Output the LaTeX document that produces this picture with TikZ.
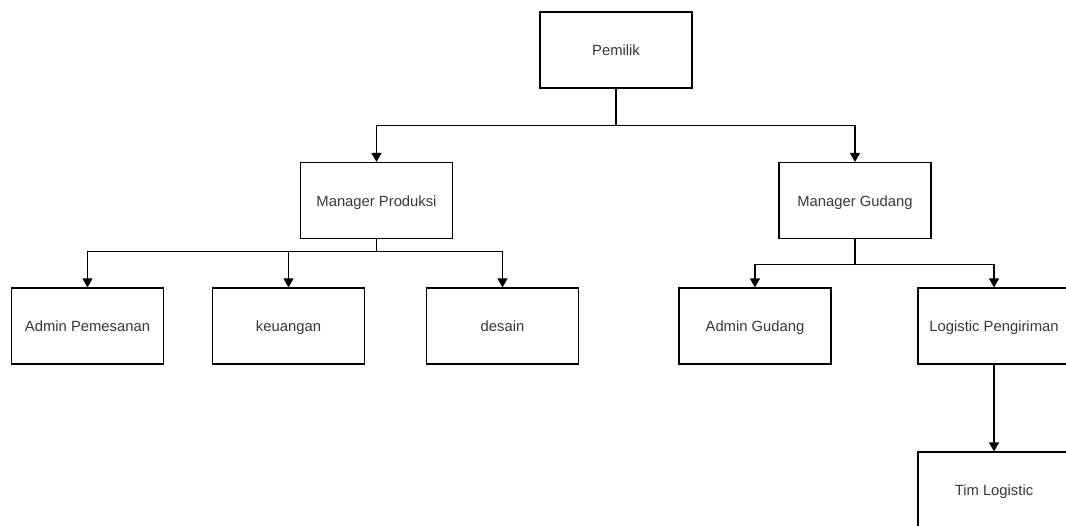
\documentclass[tikz,border=0pt]{standalone}
\usepackage{fontspec}
\setmainfont{Liberation Sans}
\usepackage{tikz}
\usetikzlibrary{arrows.meta}

\begin{document}
\begin{tikzpicture}[x=1pt,y=-1pt,
	box/.style={draw,line width=1.2pt,minimum width=152pt,minimum height=76pt,inner sep=0pt,
		text height=13pt,text depth=2pt,
		text=black!78,font=\fontsize{14.8}{17}\selectfont},
	arr/.style={line width=1.2pt,-{Triangle[length=9pt,width=10pt]}}]
	\clip (0,0) rectangle (1066,525) ;
	\fill [white] (0,0) rectangle (1066,525) ;
	\node [box] (pemilik) at (616,50) {Pemilik} ;
	\node [box] (mprod) at (376.5,200.5) {Manager Produksi} ;
	\node [box] (mgud) at (855,200.5) {Manager Gudang} ;
	\node [box] (adminp) at (87.5,326) {Admin Pemesanan} ;
	\node [box] (keu) at (288.5,326) {keuangan} ;
	\node [box] (desain) at (502.5,326) {desain} ;
	\node [box] (adming) at (755,326) {Admin Gudang} ;
	\node [box] (logp) at (994,326) {Logistic Pengiriman} ;
	\node [box] (timlog) at (994,490) {Tim Logistic} ;
	\draw [arr] (pemilik.south) -- ++(0,37) -| (mprod.north) ;
	\draw [arr] (pemilik.south) -- ++(0,37) -| (mgud.north) ;
	\draw [arr] (mprod.south) -- ++(0,12.5) -| (adminp.north) ;
	\draw [arr] (mprod.south) -- ++(0,12.5) -| (keu.north) ;
	\draw [arr] (mprod.south) -- ++(0,12.5) -| (desain.north) ;
	\draw [arr] (mgud.south) -- ++(0,25) -| (adming.north) ;
	\draw [arr] (mgud.south) -- ++(0,25) -| (logp.north) ;
	\draw [arr] (logp.south) -- (timlog.north) ;
\end{tikzpicture}
\end{document}
